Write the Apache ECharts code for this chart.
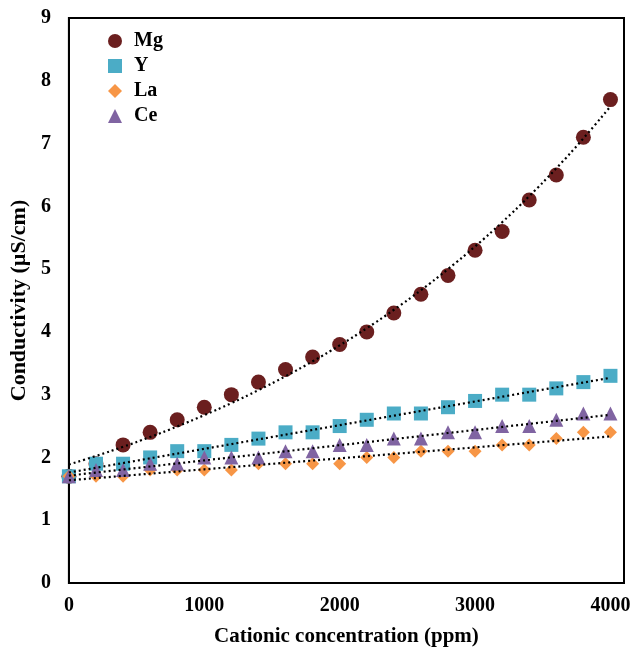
<!DOCTYPE html>
<html>
<head>
<meta charset="utf-8">
<script src="https://cdn.jsdelivr.net/npm/echarts@6/dist/echarts.min.js"></script>
<style>
  html, body { margin: 0; padding: 0; background: #fff; }
  #chart { width: 641px; height: 652px; }
</style>
</head>
<body>
<div id="chart"></div>
<script>
// concentration (ppm)
const conc = [0, 200, 400, 600, 800, 1000, 1200, 1400, 1600, 1800, 2000,
  2200, 2400, 2600, 2800, 3000, 3200, 3400, 3600, 3800, 4000]
// conductivity (uS/cm)
const mg = [1.7, 1.9, 2.2, 2.4, 2.6, 2.8, 3.0, 3.2, 3.4, 3.6, 3.8,
  4.0, 4.3, 4.6, 4.9, 5.3, 5.6, 6.1, 6.5, 7.1, 7.7]
const y = [1.7, 1.9, 1.9, 2.0, 2.1, 2.1, 2.2, 2.3, 2.4, 2.4, 2.5,
  2.6, 2.7, 2.7, 2.8, 2.9, 3.0, 3.0, 3.1, 3.2, 3.3]
const la = [1.7, 1.7, 1.7, 1.8, 1.8, 1.8, 1.8, 1.9, 1.9, 1.9, 1.9,
  2.0, 2.0, 2.1, 2.1, 2.1, 2.2, 2.2, 2.3, 2.4, 2.4]
const ce = [1.7, 1.8, 1.8, 1.9, 1.9, 2.0, 2.0, 2.0, 2.1, 2.1, 2.2,
  2.2, 2.3, 2.3, 2.4, 2.4, 2.5, 2.5, 2.6, 2.7, 2.7]

const FONT = '"Liberation Serif", "Times New Roman", serif'

// least squares line through (xs, ys) -> [slope, intercept]
function linFit(xs, ys) {
  const n = xs.length
  const mx = xs.reduce((a, b) => a + b, 0) / n
  const my = ys.reduce((a, b) => a + b, 0) / n
  let sxy = 0, sxx = 0
  xs.forEach((x, i) => {
    sxy += (x - mx) * (ys[i] - my)
    sxx += (x - mx) * (x - mx)
  })
  const k = sxy / sxx
  return [k, my - k * mx]
}

// excel style trendlines: linear, or exponential (fit on ln y)
function trend(vals, kind) {
  if (kind === 'exp') {
    const [k, b] = linFit(conc, vals.map(v => Math.log(v)))
    return conc.map(x => [x, Math.exp(b + k * x)])
  }
  const [k, b] = linFit(conc, vals)
  return conc.map(x => [x, b + k * x])
}

function scatter(name, vals, symbol, size, color) {
  return {
    name, type: 'scatter', symbol, symbolSize: size,
    itemStyle: { color, opacity: 1 },
    data: conc.map((x, i) => [x, vals[i]]),
    z: 2,
  }
}

function trendLine(vals, kind) {
  return {
    type: 'line', showSymbol: false, symbol: 'none', silent: true,
    smooth: kind === 'exp',
    lineStyle: { color: '#000', width: 2.2, type: [2, 3] },
    data: trend(vals, kind),
    z: 5,
  }
}

const chart = echarts.init(document.getElementById('chart'))
chart.setOption({
  animation: false,
  backgroundColor: '#fff',
  grid: {
    left: 66, right: 17, top: 18, bottom: 68,
    show: true, borderColor: '#000', borderWidth: 2,
  },
  legend: {
    orient: 'vertical', left: 103, top: 26,
    itemWidth: 14, itemHeight: 14, itemGap: 5,
    data: ['Mg', 'Y', 'La', 'Ce'],
    textStyle: { fontFamily: FONT, fontSize: 20, fontWeight: 'bold', color: '#000', lineHeight: 20, padding: [0, 0, 0, 7] },
  },
  xAxis: {
    type: 'value', min: 0, max: 4100, interval: 1000,
    name: 'Cationic concentration (ppm)', nameLocation: 'middle', nameGap: 43,
    nameTextStyle: { fontFamily: FONT, fontSize: 21, fontWeight: 'bold', color: '#000' },
    axisLine: { show: true, lineStyle: { color: '#000', width: 2 } },
    axisTick: { show: false },
    splitLine: { show: false },
    axisLabel: {
      showMaxLabel: false, margin: 13,
      formatter: v => String(v),
      fontFamily: FONT, fontSize: 20, fontWeight: 'bold', color: '#000',
    },
  },
  yAxis: {
    type: 'value', min: 0, max: 9, interval: 1,
    name: 'Conductivity (µS/cm)', nameLocation: 'middle', nameGap: 33,
    nameTextStyle: { fontFamily: FONT, fontSize: 22, fontWeight: 'bold', color: '#000' },
    axisLine: { show: true, lineStyle: { color: '#000', width: 2 } },
    axisTick: { show: false },
    splitLine: { show: false },
    axisLabel: { margin: 18, fontFamily: FONT, fontSize: 20, fontWeight: 'bold', color: '#000' },
  },
  series: [
    scatter('Mg', mg, 'circle', 15, '#6b1f1f'),
    scatter('Y', y, 'rect', 14, '#4bacc6'),
    scatter('La', la, 'diamond', 13, '#f79646'),
    scatter('Ce', ce, 'triangle', 14, '#8064a2'),
    trendLine(mg, 'exp'),
    trendLine(y, 'lin'),
    trendLine(la, 'lin'),
    trendLine(ce, 'lin'),
  ],
})
</script>
</body>
</html>
